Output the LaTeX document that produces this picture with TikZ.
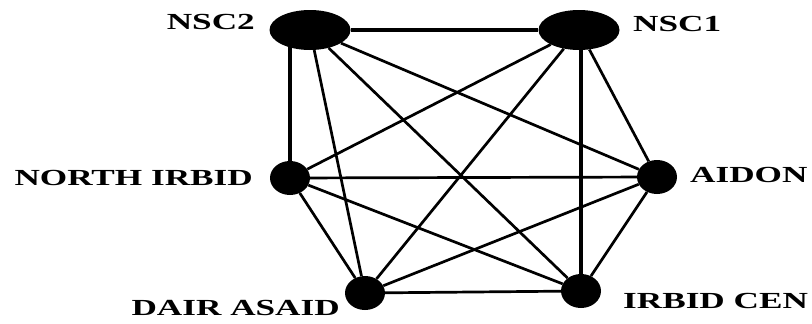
\documentclass[tikz,border=0pt]{standalone}
\usepackage{fontspec}
\newfontfamily\sitefont{Liberation Serif}[FakeStretch=1.53]
\usepackage{tikz}
\usetikzlibrary{shapes.geometric}
\tikzset{
  sitenode/.style={ellipse,fill=black,draw=none,inner sep=0pt,minimum width=40pt,minimum height=34pt},
  hubnode/.style={sitenode,minimum width=81pt,minimum height=40pt},
  sitelbl/.style={inner sep=0pt,font=\sitefont\bfseries\fontsize{23}{23}\selectfont},
  linkedge/.style={line width=2.7pt,black},
  trunkedge/.style={linkedge,line width=3.8pt},
}

\begin{document}
\begin{tikzpicture}[x=1pt,y=-1pt]
  \useasboundingbox (0,0) rectangle (812,324);
  \node[hubnode] (nNSC2) at (310,30) {};
  \node[hubnode] (nNSC1) at (579,30) {};
  \node[sitenode] (nNorth) at (290,178) {};
  \node[sitenode] (nAidon) at (657,177) {};
  \node[sitenode] (nDair) at (365,293) {};
  \node[sitenode] (nCen) at (581,291) {};
  % labels
  \node[sitelbl,anchor=east] (tNSC2) at (255,22) {NSC2};
  \node[sitelbl,anchor=west] (tNSC1) at (633,24) {NSC1};
  \node[sitelbl,anchor=east] (tNorth) at (253,178) {NORTH IRBID};
  \node[sitelbl,anchor=west] (tAidon) at (690,175) {AIDON};
  \node[sitelbl,anchor=east] (tDair) at (340,308) {DAIR ASAID};
  \node[sitelbl,anchor=west] (tCen) at (623,301) {IRBID CEN};
  % links
  \draw[trunkedge] (nNSC2) -- (nNSC1);
  \draw[trunkedge] (nNorth) -- (nNorth |- nNSC2);
  \draw[trunkedge] (nCen) -- (nCen |- nNSC1);
  \draw[linkedge] (nNSC2) -- (nDair);
  \draw[linkedge] (nNSC2) -- (nCen);
  \draw[linkedge] (nNSC2) -- (nAidon);
  \draw[linkedge] (nNSC1) -- (nAidon);
  \draw[linkedge] (nNSC1) -- (nDair);
  \draw[linkedge] (nNSC1) -- (nNorth);
  \draw[linkedge] (nNorth) -- (nAidon);
  \draw[linkedge] (nNorth) -- (nDair);
  \draw[linkedge] (nNorth) -- (nCen);
  \draw[linkedge] (nAidon) -- (nDair);
  \draw[linkedge] (nAidon) -- (nCen);
  \draw[linkedge] (nDair) -- (nCen);
\end{tikzpicture}
\end{document}
